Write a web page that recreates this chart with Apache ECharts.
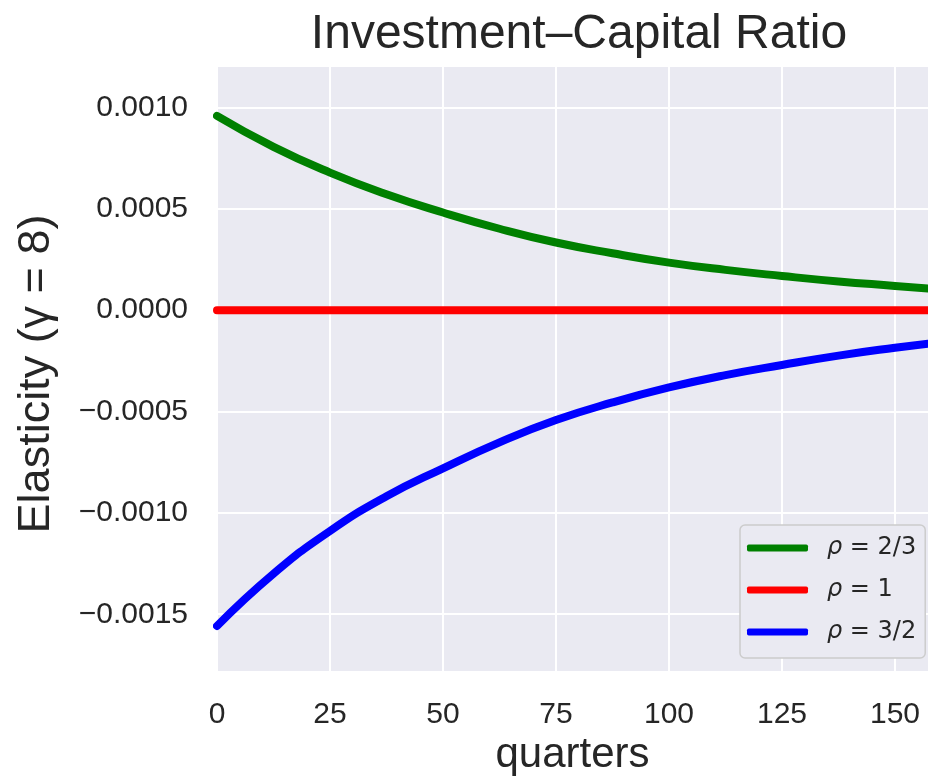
<!DOCTYPE html>
<html>
<head>
<meta charset="utf-8">
<script src="https://cdn.jsdelivr.net/npm/echarts@6/dist/echarts.min.js"></script>
<style>
  html, body { margin: 0; padding: 0; background: #ffffff; }
  #chart { width: 928px; height: 776px; }
</style>
</head>
<body>
<div id="chart"></div>
<script>
// Horizon in quarters
const quarters = [0, 12.5, 25, 37.5, 50, 62.5, 75, 87.5, 100, 112.5, 125, 137.5, 150, 157.3];

// Elasticity of the investment-capital ratio, per value of rho
const rhoTwoThirds = [0.000959, 0.000806, 0.000679, 0.000572, 0.000482, 0.000402, 0.000334,
                      0.000281, 0.000235, 0.000199, 0.000169, 0.000142, 0.000120, 0.000107];
const rhoOne       = [0, 0, 0, 0, 0, 0, 0, 0, 0, 0, 0, 0, 0, 0];
const rhoThreeHalf = [-0.001558, -0.001300, -0.001089, -0.000918, -0.000780, -0.000652, -0.000542,
                      -0.000455, -0.000381, -0.000320, -0.000270, -0.000224, -0.000185, -0.000165];

const seriesNames = ['ρ = 2/3', 'ρ = 1', 'ρ = 3/2'];
const xTicks = [0, 25, 50, 75, 100, 125, 150];
const yTicks = [-0.0015, -0.001, -0.0005, 0, 0.0005, 0.001];

const pairs = vals => quarters.map((q, i) => [q, vals[i]]);
const fmtY = v => {
  const s = Math.abs(v).toFixed(4);
  return v < -1e-12 ? '\u2212' + s : s;
};

const textColor = '#262626';
const sans = '"Liberation Sans", Arial, sans-serif';

const chart = echarts.init(document.getElementById('chart'), null, { renderer: 'canvas' });

const lineSeries = (name, vals, color) => ({
  name: name,
  type: 'line',
  data: pairs(vals),
  showSymbol: false,
  smooth: true,
  lineStyle: { color: color, width: 8, cap: 'round' },
  itemStyle: { color: color },
  emphasis: { disabled: true },
  z: 3
});

chart.setOption({
  animation: false,
  backgroundColor: '#ffffff',
  title: {
    text: 'Investment\u2013Capital Ratio',
    left: 579,
    top: 11,
    padding: 0,
    textAlign: 'center',
    textStyle: { fontFamily: sans, fontSize: 48, fontWeight: 'normal', color: textColor }
  },
  grid: {
    left: 217, right: 0, top: 67, bottom: 105,
    outerBoundsMode: 'none',
    containLabel: false,
    show: true, backgroundColor: '#EAEAF2', borderWidth: 0
  },
  legend: {
    orient: 'vertical',
    left: 740,
    top: 525,
    padding: [11, 9, 14, 7],
    itemGap: 18,
    itemWidth: 61,
    itemHeight: 7,
    icon: 'roundRect',
    backgroundColor: '#EAEAF2',
    borderColor: '#cccccc',
    borderWidth: 1.5,
    borderRadius: 5,
    data: seriesNames,
    formatter: name => '{g|ρ}{t|' + name.slice(1) + '}',
    textStyle: {
      padding: [0, 0, 0, 14],
      rich: {
        g: { fontFamily: '"DejaVu Sans"', fontStyle: 'italic', fontSize: 24, color: textColor },
        t: { fontFamily: '"DejaVu Sans"', fontSize: 24, color: textColor }
      }
    }
  },
  xAxis: {
    type: 'value',
    min: 0,
    max: 157.3,
    interval: 25,
    name: 'quarters',
    nameLocation: 'middle',
    nameGap: 63,
    nameTextStyle: { fontFamily: sans, fontSize: 42, color: textColor },
    axisLine: { show: false },
    axisTick: { show: false, customValues: xTicks },
    axisLabel: {
      customValues: xTicks,
      margin: 29,
      fontFamily: sans, fontSize: 30, color: textColor
    },
    splitLine: { show: true, lineStyle: { color: '#ffffff', width: 2 } }
  },
  yAxis: {
    type: 'value',
    min: -0.00178,
    max: 0.0012,
    name: 'Elasticity (\u03B3 = 8)',
    nameLocation: 'middle',
    nameGap: 158,
    nameTextStyle: { fontFamily: sans, fontSize: 45, color: textColor, padding: [0, 10, 0, 0] },
    axisLine: { show: false },
    axisTick: { show: false, customValues: yTicks },
    axisLabel: {
      customValues: yTicks,
      margin: 29,
      padding: [7, 0, 0, 0],
      formatter: fmtY,
      fontFamily: sans, fontSize: 30, color: textColor
    },
    splitLine: { show: true, lineStyle: { color: '#ffffff', width: 2 } }
  },
  series: [
    lineSeries(seriesNames[0], rhoTwoThirds, '#008000'),
    lineSeries(seriesNames[1], rhoOne, '#ff0000'),
    lineSeries(seriesNames[2], rhoThreeHalf, '#0000ff')
  ]
});
</script>
</body>
</html>
